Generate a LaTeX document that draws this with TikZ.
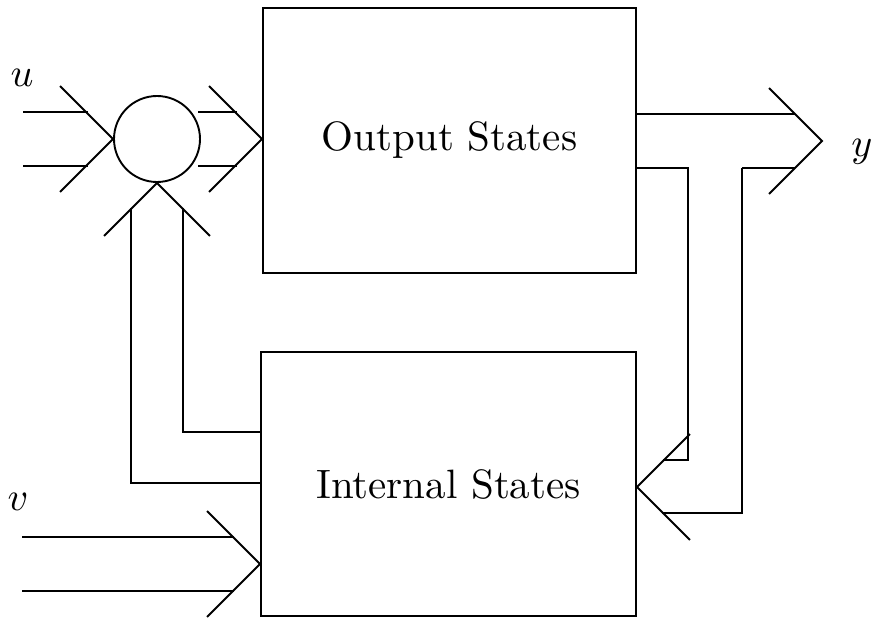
\documentclass[tikz,border=0pt]{standalone}
\begin{document}
\begin{tikzpicture}[x=1pt, y=-1pt, line width=1.9pt,
  blk/.style={draw, minimum width=#1, minimum height=265pt, inner sep=0pt},
  junction/.style={draw, circle, minimum size=86pt, inner sep=0pt},
  lbl/.style={anchor=base, inner sep=0pt},
  chev/.pic={\draw (-53,-53) -- (0,0) -- (-53,53);}]
\useasboundingbox (0,0) rectangle (873,620);

% blocks and the summing junction
\node[blk=373pt] (out) at (449.5,140.5) {\scalebox{4.1}{Output States}};
\node[blk=375pt, minimum height=264pt] (int) at (448.5,484) {\scalebox{4.1}{Internal States}};
\node[junction] (sum) at (157,139) {};

% signal labels
\node[lbl] (lu) at (22,87) {\scalebox{4}{$u$}};
\node[lbl] (lv) at (18,510) {\scalebox{4}{$v$}};
\node[lbl] (ly) at (862,157) {\scalebox{4}{$y$}};

% arrow tips
\coordinate (tU) at (sum.west);
\coordinate (tO) at (out.west |- sum.center);
\coordinate (tS) at (sum.south);
\coordinate (tY) at (822,141);
\coordinate (tIr) at (int.east |- 0,487);
\coordinate (tIl) at (int.west |- 0,564);

% input u into the junction
\coordinate (u1) at (23,112);  \coordinate (u1e) at (88,112);
\coordinate (u2) at (23,166);  \coordinate (u2e) at (88,166);
\draw (u1) -- (u1e);
\draw (u2) -- (u2e);
\pic[rotate=0] at (tU) {chev};

% junction into output states
\coordinate (s1) at (198,112);  \coordinate (s1e) at (237,112);
\coordinate (s2) at (198,166);  \coordinate (s2e) at (237,166);
\draw (s1) -- (s1e);
\draw (s2) -- (s2e);
\pic at (tO) {chev};

% internal states fed back to the junction
\coordinate (f1) at (131,208);
\coordinate (f2) at (183,208);
\draw (f1) |- (int.west |- 0,483);
\draw (f2) |- (int.west |- 0,432);
\pic[rotate=90] at (tS) {chev};

% output y
\coordinate (y1e) at (795,114);
\coordinate (y2) at (742,168);  \coordinate (y2e) at (795,168);
\draw (out.east |- y1e) -- (y1e);
\draw (y2) -- (y2e);
\pic at (tY) {chev};

% output fed into internal states
\coordinate (r1) at (688,168);
\coordinate (r1e) at (663,460);
\coordinate (r2e) at (662,513);
\draw (out.east |- r1) -- (r1) |- (r1e);
\draw (y2) |- (r2e);
\pic[rotate=180] at (tIr) {chev};

% input v into internal states
\coordinate (v1) at (22,537);  \coordinate (v1e) at (234,537);
\coordinate (v2) at (22,591);  \coordinate (v2e) at (234,591);
\draw (v1) -- (v1e);
\draw (v2) -- (v2e);
\pic at (tIl) {chev};
\end{tikzpicture}
\end{document}
